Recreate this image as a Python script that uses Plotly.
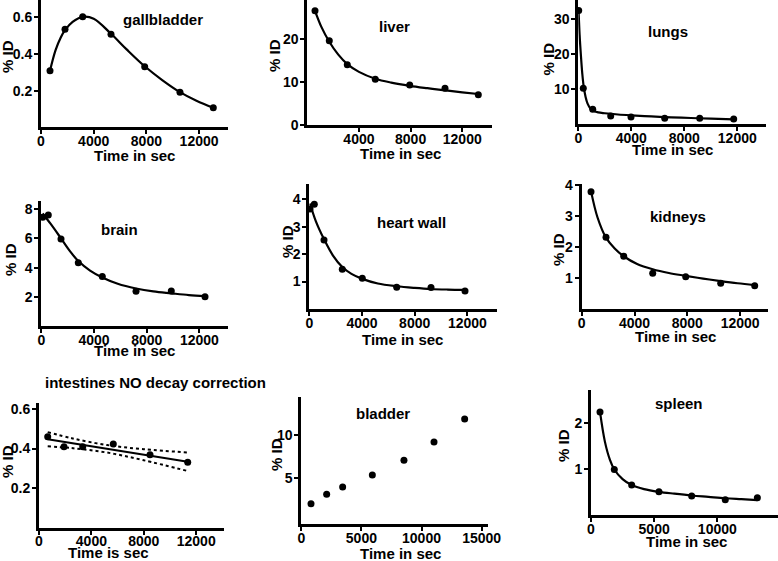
import plotly.graph_objects as go

W, H = 778, 561

# ---------------- data ----------------
gb_t = [683, 1822, 3165, 5313, 7871, 10550, 13078]
gb_v = [0.309, 0.535, 0.603, 0.507, 0.331, 0.191, 0.107]
gb_fit_t = [683, 1100, 1500, 1822, 2400, 3165, 4000, 5313, 6500, 7871, 9200, 10550, 11800, 13078]
gb_fit_v = [0.309, 0.42, 0.49, 0.53, 0.575, 0.602, 0.592, 0.51, 0.425, 0.333, 0.258, 0.192, 0.145, 0.107]

lv_t = [596, 1704, 3098, 5266, 7930, 10664, 13243]
lv_v = [26.6, 19.65, 14.07, 10.67, 9.35, 8.58, 7.09]
lv_fit_t = [596, 1100, 1704, 2400, 3098, 4000, 5266, 6500, 7930, 9300, 10664, 12000, 13243]
lv_fit_v = [26.6, 22.8, 19.4, 16.4, 14.2, 12.4, 10.8, 9.9, 9.15, 8.6, 8.1, 7.65, 7.25]

lu_t = [30, 377, 1087, 2445, 3977, 6521, 9162, 11728]
lu_v = [32.5, 10.3, 4.29, 2.37, 2.09, 1.71, 1.71, 1.51]
lu_fit_t = [20, 100, 200, 300, 400, 550, 700, 900, 1100, 1500, 2000, 3000, 4000, 5500, 7000, 8500, 10000, 11728]
lu_fit_v = [32.5, 25.5, 19.5, 14.5, 11.0, 7.8, 5.9, 4.6, 3.9, 3.4, 3.15, 2.8, 2.55, 2.25, 2.0, 1.8, 1.6, 1.4]

br_t = [106, 531, 1495, 2808, 4630, 7188, 9867, 12425]
br_v = [7.44, 7.60, 5.96, 4.34, 3.39, 2.39, 2.41, 2.02]
br_fit_t = [106, 700, 1495, 2200, 2808, 3700, 4630, 5800, 7188, 8500, 9867, 11200, 12425]
br_fit_v = [7.7, 7.0, 6.0, 5.1, 4.45, 3.8, 3.33, 2.9, 2.58, 2.38, 2.25, 2.13, 2.06]

hw_t = [53, 380, 1116, 2505, 4023, 6634, 9237, 11818]
hw_v = [3.65, 3.82, 2.52, 1.45, 1.12, 0.79, 0.78, 0.66]
hw_fit_t = [53, 500, 1116, 1800, 2505, 3200, 4023, 5200, 6634, 8000, 9237, 10500, 11818]
hw_fit_v = [3.85, 3.2, 2.55, 1.95, 1.53, 1.28, 1.1, 0.93, 0.83, 0.77, 0.73, 0.71, 0.70]

kd_t = [705, 1841, 3182, 5379, 7879, 10530, 13106]
kd_v = [3.78, 2.31, 1.70, 1.15, 1.04, 0.83, 0.75]
kd_fit_t = [705, 1200, 1841, 2500, 3182, 4200, 5379, 6600, 7879, 9200, 10530, 11800, 13106]
kd_fit_v = [3.8, 2.95, 2.3, 1.95, 1.7, 1.45, 1.28, 1.16, 1.07, 0.98, 0.9, 0.83, 0.77]

in_t = [664, 1908, 3336, 5672, 8473, 11351]
in_v = [0.460, 0.409, 0.409, 0.423, 0.369, 0.330]
in_fit_t = [664, 11351]
in_fit_v = [0.447, 0.333]
in_band_t = [664, 2500, 5200, 8000, 11351]
in_upper = [0.483, 0.452, 0.4175, 0.3965, 0.380]
in_lower = [0.411, 0.402, 0.3795, 0.3405, 0.286]

bl_t = [807, 2110, 3440, 5910, 8540, 11040, 13590]
bl_v = [2.07, 3.15, 3.99, 5.37, 7.07, 9.18, 11.83]

sp_t = [713, 1845, 3220, 5380, 7970, 10630, 13170]
sp_v = [2.25, 0.99, 0.65, 0.50, 0.41, 0.33, 0.37]
sp_fit_t = [713, 1100, 1500, 1845, 2500, 3220, 4200, 5380, 6600, 7970, 9300, 10630, 11900, 13170]
sp_fit_v = [2.25, 1.6, 1.2, 0.99, 0.78, 0.65, 0.56, 0.50, 0.46, 0.42, 0.39, 0.36, 0.34, 0.32]

# tick values per panel
x_ticks_4k = [0, 4000, 8000, 12000]
x_ticks_4k_no0 = [4000, 8000, 12000]
x_ticks_5k = [0, 5000, 10000, 15000]
x_ticks_5k_sp = [0, 5000, 10000]
gb_yticks = [0.2, 0.4, 0.6]
lv_yticks = [0, 10, 20]
lu_yticks = [10, 20, 30]
br_yticks = [2, 4, 6, 8]
hw_yticks = [1, 2, 3, 4]
kd_yticks = [1, 2, 3, 4]
in_yticks = [0.2, 0.4, 0.6]
bl_yticks = [5, 10]
sp_yticks = [1, 2]

# ---------------- layout of panels (pixel boxes) ----------------
FONT = "Liberation Sans, Arial, Helvetica, sans-serif"
panels = [
    # name, xl, xr, yt, yb, xrange, yrange, xticks, yticks
    ("gallbladder", 41, 228, 0, 127.4, [0, 14194], [0, 0.694], x_ticks_4k, gb_yticks),
    ("liver", 307.3, 492.3, 0, 125.2, [0, 14327], [0, 29.1], x_ticks_4k_no0, lv_yticks),
    ("lungs", 578.3, 765.7, 0, 124.3, [0, 14143], [0, 35.5], x_ticks_4k, lu_yticks),
    ("brain", 41.3, 228, 201, 326.3, [0, 14170], [0, 8.55], x_ticks_4k, br_yticks),
    ("heart wall", 309.3, 496.7, 184, 309, [0, 14224], [0, 4.56], x_ticks_4k, hw_yticks),
    ("kidneys", 581.7, 768.3, 184, 309, [0, 14136], [0, 4.03], x_ticks_4k, kd_yticks),
    ("intestines", 39, 224.3, 403.3, 527.5, [0, 14145], [0, 0.629], x_ticks_4k, in_yticks),
    ("bladder", 301.3, 488.3, 396.7, 524, [0, 15557], [-0.277, 14.41], x_ticks_5k, bl_yticks),
    ("spleen", 591, 778, 390, 514.7, [0, 14804], [0, 2.73], x_ticks_5k_sp, sp_yticks),
]

fig = go.Figure()
layout = dict(
    width=W, height=H, margin=dict(l=0, r=0, t=0, b=0, pad=0, autoexpand=False),
    paper_bgcolor="white", plot_bgcolor="white", showlegend=False,
    font=dict(family=FONT, size=14, color="black", weight="bold"),
)

axis_common = dict(
    showline=True, linecolor="black", linewidth=3, ticks="outside",
    ticklen=4, tickwidth=2, tickcolor="black", showgrid=False, zeroline=False,
    tickfont=dict(family=FONT, size=14, color="black", weight="bold"),
    fixedrange=True, automargin=False,
)

for i, (name, xl, xr, yt, yb, xrg, yrg, xt, yt_vals) in enumerate(panels, start=1):
    xa = "xaxis" if i == 1 else f"xaxis{i}"
    ya = "yaxis" if i == 1 else f"yaxis{i}"
    layout[xa] = dict(axis_common, domain=[xl / W, min(xr / W, 1.0)], range=xrg,
                      anchor=f"y{i if i > 1 else ''}", tickvals=xt,
                      ticktext=[f"<b>{v}</b>" for v in xt], ticklabelstandoff=-5)
    layout[ya] = dict(axis_common, domain=[1 - yb / H, min(1 - yt / H, 1.0)], range=yrg,
                      anchor=f"x{i if i > 1 else ''}", tickvals=yt_vals,
                      ticktext=[f"<b>{v}</b>" for v in yt_vals], ticklabelstandoff=-1)

def ax(i):
    return ("x" if i == 1 else f"x{i}"), ("y" if i == 1 else f"y{i}")

def pts(i, t, v):
    xr_, yr_ = ax(i)
    fig.add_trace(go.Scatter(x=t, y=v, mode="markers", xaxis=xr_, yaxis=yr_,
                             marker=dict(color="black", size=7), cliponaxis=False))

def fit(i, t, v, shape="spline", dash="solid", width=2.2):
    xr_, yr_ = ax(i)
    fig.add_trace(go.Scatter(x=t, y=v, mode="lines", xaxis=xr_, yaxis=yr_,
                             line=dict(color="black", width=width, shape=shape, dash=dash),
                             cliponaxis=False))

fit(1, gb_fit_t, gb_fit_v); pts(1, gb_t, gb_v)
fit(2, lv_fit_t, lv_fit_v); pts(2, lv_t, lv_v)
fit(3, lu_fit_t, lu_fit_v); pts(3, lu_t, lu_v)
fit(4, br_fit_t, br_fit_v); pts(4, br_t, br_v)
fit(5, hw_fit_t, hw_fit_v); pts(5, hw_t, hw_v)
fit(6, kd_fit_t, kd_fit_v); pts(6, kd_t, kd_v)
fit(7, in_fit_t, in_fit_v, shape="linear")
fit(7, in_band_t, in_upper, dash="dot", width=2)
fit(7, in_band_t, in_lower, dash="dot", width=2)
pts(7, in_t, in_v)
pts(8, bl_t, bl_v)
fit(9, sp_fit_t, sp_fit_v); pts(9, sp_t, sp_v)

# ---------------- text annotations ----------------
def ann(text, px, py, xanchor="center", angle=0, size=15):
    return dict(text=f"<b>{text}</b>", x=px / W, y=1 - py / H, xref="paper", yref="paper",
                xanchor=xanchor, yanchor="middle", showarrow=False, textangle=angle,
                font=dict(family=FONT, size=size, color="black", weight="bold"))

annotations = [
    ann("gallbladder", 163, 20),
    ann("liver", 394, 27),
    ann("lungs", 667.5, 31),
    ann("brain", 119.5, 229),
    ann("heart wall", 411.7, 222),
    ann("kidneys", 678, 217),
    ann("intestines NO decay correction", 43, 382, xanchor="left"),
    ann("bladder", 382.5, 413),
    ann("spleen", 679, 403),
]
ylab = [(8, 57), (274, 56), (547.5, 59), (11, 260), (287, 242), (559, 250), (7, 462), (276, 455), (563, 446)]
for (px, py) in ylab:
    annotations.append(ann("% ID", px, py, angle=-90))
xlab = [(134, 155, "Time in sec"), (400, 153, "Time in sec"), (672, 149, "Time in sec"),
        (134, 351, "Time in sec"), (402, 339, "Time in sec"), (675, 336, "Time in sec"),
        (108, 552, "Time is sec"), (400, 553, "Time in sec"), (686, 541, "Time in sec")]
for (px, py, t) in xlab:
    annotations.append(ann(t, px, py))

layout["annotations"] = annotations
fig.update_layout(**layout)
fig.write_html("out.html", config={"displayModeBar": False},
               post_script="document.body.style.margin='0';document.body.style.padding='0';"
                           "document.documentElement.style.overflow='hidden';")
